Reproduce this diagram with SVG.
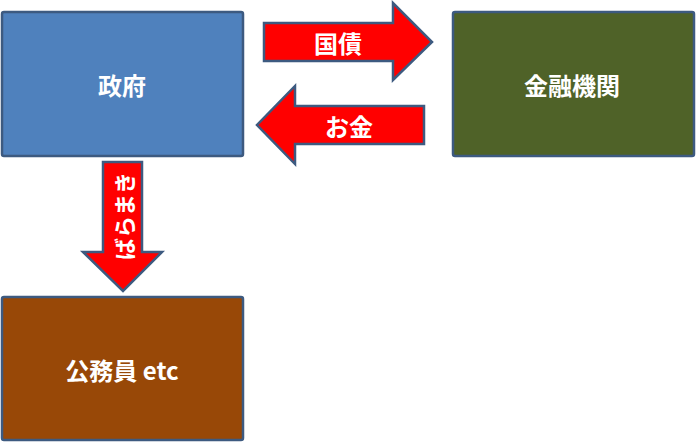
<svg xmlns="http://www.w3.org/2000/svg" width="696" height="443" viewBox="0 0 696 443">
<style>
.box{stroke:#3D5A80;stroke-width:2.5}
.arr{fill:#FF0000;stroke:#3D5A80;stroke-width:2.5;stroke-linejoin:miter}
.t{font-family:"Noto Sans CJK JP","Liberation Sans",sans-serif;font-weight:bold;font-size:24px;fill:#FFFFFF;text-anchor:middle;dominant-baseline:central}
.s{font-size:22px}
</style>
<rect width="696" height="443" fill="#FFFFFF"/>
<g id="connectors">
<g id="arrow-kokusai">
<polygon class="arr" points="264,23 393,23 393,3 432,42 393,80 393,61 264,61"/>
<text class="t" x="338" y="42">国債</text>
</g>
<g id="arrow-okane">
<polygon class="arr" points="424,106 295,106 295,86 257,125 295,164 295,144 424,144"/>
<text class="t" x="349" y="125">お金</text>
</g>
<g id="arrow-baramaki">
<polygon class="arr" points="103,162 142,162 142,252 162,252 123,291 83,252 103,252"/>
<text class="t s" transform="translate(123,216) rotate(-90)" x="0" y="0">ばらまき</text>
</g>
</g>
<g id="node-seifu">
<rect class="box" x="2" y="12" width="241" height="144" rx="2" fill="#4F81BD"/>
<text class="t" x="122" y="84">政府</text>
</g>
<g id="node-kinyu">
<rect class="box" x="453" y="12" width="241" height="144" rx="2" fill="#4F6228"/>
<text class="t" x="572" y="84">金融機関</text>
</g>
<g id="node-koumuin">
<rect class="box" x="2" y="297" width="241" height="143" rx="2" fill="#984807"/>
<text class="t" x="122" y="369">公務員 etc</text>
</g>
</svg>
